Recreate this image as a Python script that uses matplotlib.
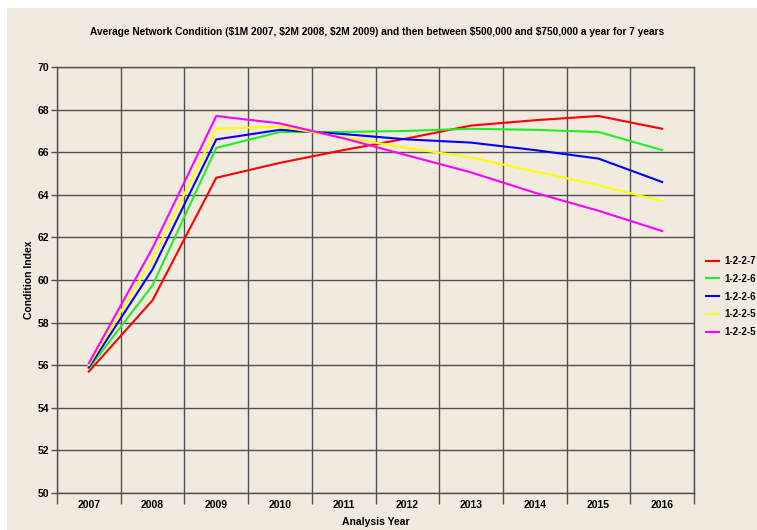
import matplotlib.pyplot as plt
from matplotlib.patches import Rectangle

years = ['2007', '2008', '2009', '2010', '2011', '2012', '2013', '2014', '2015', '2016']
labels = ['1-2-2-7', '1-2-2-6', '1-2-2-6', '1-2-2-5', '1-2-2-5']
colors = ['#FF0000', '#22EE22', '#0000FF', '#FFFF00', '#FF00FF']

red = [55.7, 59.05, 64.8, 65.5, 66.1, 66.65, 67.25, 67.5, 67.7, 67.1]
green = [55.85, 59.75, 66.2, 66.95, 66.95, 67.0, 67.1, 67.05, 66.95, 66.1]
blue = [55.9, 60.5, 66.6, 67.05, 66.85, 66.6, 66.45, 66.1, 65.7, 64.6]
yellow = [56.0, 61.0, 67.1, 67.2, 66.7, 66.2, 65.75, 65.1, 64.45, 63.7]
magenta = [56.1, 61.5, 67.7, 67.35, 66.65, 65.85, 65.05, 64.1, 63.25, 62.3]
series = [red, green, blue, yellow, magenta]

plt.rcParams['font.family'] = ['Liberation Sans', 'DejaVu Sans']

beige = '#F1EADE'
grid_c = '#505050'

fig = plt.figure(figsize=(7.57, 5.30), dpi=100, facecolor='white')
fig.patches.append(Rectangle((7 / 757, 0), 1, 1 - 8 / 530, transform=fig.transFigure,
                             facecolor=beige, edgecolor='none', zorder=-10))

ax = fig.add_axes([57 / 757, 1 - 493 / 530, (694 - 57) / 757, (493 - 67) / 530])
ax.set_facecolor(beige)

x = list(range(len(years)))
for vals, lab, c in zip(series, labels, colors):
    ax.plot(x, vals, color=c, lw=1.5, label=lab, zorder=3)

ax.set_xlim(-0.5, len(years) - 0.5)
ax.set_ylim(50, 70)
ax.set_yticks(range(50, 71, 2))
ax.set_xticks(x)
ax.set_xticklabels(years)
ax.set_xticks([i - 0.5 for i in range(len(years) + 1)], minor=True)
ax.tick_params(axis='x', which='major', length=0, pad=5)
ax.tick_params(axis='x', which='minor', length=8, color=grid_c, width=1)
ax.tick_params(axis='y', length=4, color=grid_c, width=1, pad=1.5)
for t in ax.get_xticklabels() + ax.get_yticklabels():
    t.set_fontsize(7.5)
    t.set_fontweight('bold')

ax.grid(True, which='minor', axis='x', color=grid_c, lw=1)
ax.grid(True, which='major', axis='y', color=grid_c, lw=1)
for s in ax.spines.values():
    s.set_color(grid_c)
    s.set_linewidth(1)

ax.set_xlabel('Analysis Year', fontsize=7.5, fontweight='bold', labelpad=5)
ax.set_ylabel('Condition Index', fontsize=7.5, fontweight='bold', labelpad=3)
fig.text(377 / 757, 1 - 32 / 530,
         'Average Network Condition ($1M 2007, $2M 2008, $2M 2009) and then between $500,000 and $750,000 a year for 7 years',
         ha='center', va='center', fontsize=7.3, fontweight='bold')

fig.legend(loc='upper left', bbox_to_anchor=(706 / 757, 1 - 256 / 530), frameon=False,
           prop={'weight': 'bold', 'size': 7}, handlelength=1.3, borderpad=0,
           borderaxespad=0, handletextpad=0.55, labelspacing=0.8)

fig.savefig('out.png', dpi=100, facecolor=fig.get_facecolor())
